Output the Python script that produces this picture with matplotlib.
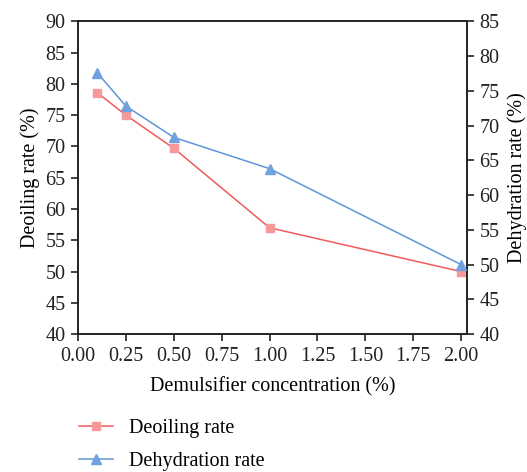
import matplotlib
matplotlib.use("Agg")
import matplotlib.pyplot as plt
from matplotlib.lines import Line2D

plt.rcParams['font.family'] = ['Liberation Serif', 'DejaVu Serif']

concentration = [0.1, 0.25, 0.5, 1.0, 2.0]
deoiling_rate = [78.6, 75.0, 69.7, 57.0, 50.0]
dehydration_rate = [77.6, 72.8, 68.3, 63.8, 50.0]

x_ticks = [0.00, 0.25, 0.50, 0.75, 1.00, 1.25, 1.50, 1.75, 2.00]
left_ticks = [40, 45, 50, 55, 60, 65, 70, 75, 80, 85, 90]
right_ticks = [40, 45, 50, 55, 60, 65, 70, 75, 80, 85]

red_line = '#f05a5a'
red_mark = '#f7999b'
blue_line = '#5f95d8'
blue_mark = '#6fa2de'

FS = 14.5

fig = plt.figure(figsize=(5.27, 4.72), dpi=100)
ax = fig.add_axes([0.148, 0.292, 0.738, 0.663])
ax2 = ax.twinx()

ax.plot(concentration, deoiling_rate, color=red_line, lw=1.1,
        marker='s', ms=6, mfc=red_mark, mec=red_mark, zorder=3)
ax2.plot(concentration, dehydration_rate, color=blue_line, lw=1.1,
         marker='^', ms=7, mfc=blue_mark, mec=blue_mark, zorder=3)

ax.set_xlim(0, 2.03)
ax.set_ylim(40, 90)
ax2.set_ylim(40, 85)
ax.set_xticks(x_ticks)
ax.set_xticklabels([f"{v:.2f}" for v in x_ticks])
ax.set_yticks(left_ticks)
ax2.set_yticks(right_ticks)

for a in (ax, ax2):
    a.tick_params(direction='out', length=5, width=1.2, labelsize=FS,
                  colors='#222222', pad=4)
    for s in a.spines.values():
        s.set_linewidth(1.2)
        s.set_color('#222222')

ax.set_xlabel("Demulsifier concentration (%)", fontsize=FS, labelpad=8)
ax.set_ylabel("Deoiling rate (%)", fontsize=FS, labelpad=4)
ax2.set_ylabel("Dehydration rate (%)", fontsize=FS, labelpad=5.5)

handles = [
    Line2D([], [], color=red_line, lw=1.1, marker='s', ms=6,
           mfc=red_mark, mec=red_mark),
    Line2D([], [], color=blue_line, lw=1.1, marker='^', ms=7,
           mfc=blue_mark, mec=blue_mark),
]
fig.legend(handles, ["Deoiling rate", "Dehydration rate"],
           loc='upper left', bbox_to_anchor=(0.115, 0.15),
           frameon=False, fontsize=FS, handlelength=1.7,
           labelspacing=0.65, handletextpad=0.8)

fig.savefig("out.png", dpi=100)
